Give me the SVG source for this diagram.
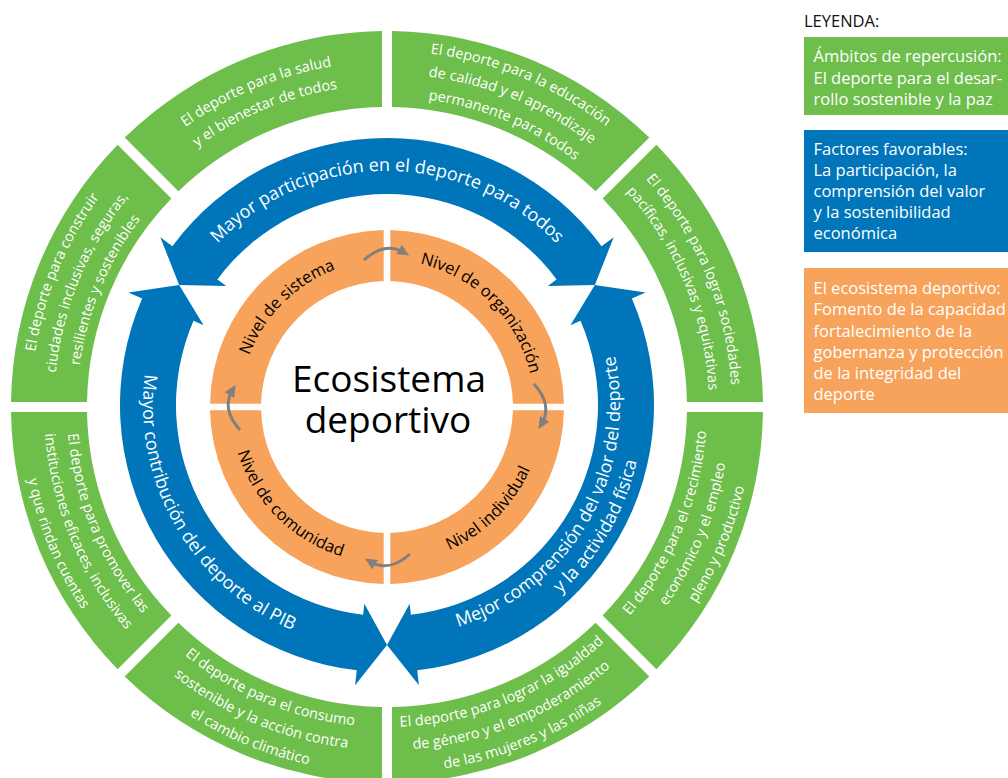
<svg xmlns="http://www.w3.org/2000/svg" width="1008" height="778" viewBox="0 0 1008 778">
<style>
.g{fill:#6dbe4b}
.b{fill:#0075ba}
.o{fill:#f7a35b}
.tg{font-family:"Open Sans","Noto Sans",sans-serif;font-size:14.5px;fill:#fff}
.tb{font-family:"Open Sans","Noto Sans",sans-serif;font-size:18px;fill:#fff}
.to{font-family:"Open Sans","Noto Sans",sans-serif;font-size:16.5px;fill:#000}
.tc{font-family:"Open Sans","Noto Sans",sans-serif;font-size:37px;fill:#000}
.tl{font-family:"Open Sans","Noto Sans",sans-serif;font-size:16.5px;fill:#fff}
.ar{fill:none;stroke:#808080;stroke-width:3;marker-end:url(#ah)}
</style>
<defs>
<marker id="ah" viewBox="0 0 12 11" refX="6" refY="5.5" markerWidth="12" markerHeight="11" markerUnits="userSpaceOnUse" orient="auto"><path d="M0,0 L12,5.5 L0,11 Z" fill="#808080"/></marker>
<path id="s0a" d="M630.95,163.05 A345,345 0 0 1 732,407"/>
<path id="s0b" d="M614.69,179.31 A322,322 0 0 1 709,407"/>
<path id="s1a" d="M387,51 A356,356 0 0 1 638.73,155.27"/>
<path id="s1b" d="M387,74 A333,333 0 0 1 622.47,171.53"/>
<path id="s1c" d="M387,97 A310,310 0 0 1 606.2,187.8"/>
<path id="s2a" d="M143.05,163.05 A345,345 0 0 1 387,62"/>
<path id="s2b" d="M159.31,179.31 A322,322 0 0 1 387,85"/>
<path id="s3a" d="M31,407 A356,356 0 0 1 135.27,155.27"/>
<path id="s3b" d="M54,407 A333,333 0 0 1 151.53,171.53"/>
<path id="s3c" d="M77,407 A310,310 0 0 1 167.8,187.8"/>
<path id="s4a" d="M67,407 A320,320 0 0 0 160.73,633.27"/>
<path id="s4b" d="M44,407 A343,343 0 0 0 144.46,649.54"/>
<path id="s4c" d="M21,407 A366,366 0 0 0 128.2,665.8"/>
<path id="s5a" d="M160.73,633.27 A320,320 0 0 0 387,727"/>
<path id="s5b" d="M144.46,649.54 A343,343 0 0 0 387,750"/>
<path id="s5c" d="M128.2,665.8 A366,366 0 0 0 387,773"/>
<path id="s6a" d="M387,727 A320,320 0 0 0 613.27,633.27"/>
<path id="s6b" d="M387,750 A343,343 0 0 0 629.54,649.54"/>
<path id="s6c" d="M387,773 A366,366 0 0 0 645.8,665.8"/>
<path id="s7a" d="M613.27,633.27 A320,320 0 0 0 707,407"/>
<path id="s7b" d="M629.54,649.54 A343,343 0 0 0 730,407"/>
<path id="s7c" d="M645.8,665.8 A366,366 0 0 0 753,407"/>
<path id="bt" d="M184.35,288 A234,234 0 0 1 589.65,288"/>
<path id="bl" d="M175.69,283 A244,244 0 0 0 387,649"/>
<path id="br1" d="M387,638 A233,233 0 0 0 588.78,288.5"/>
<path id="br2" d="M387,661 A256,256 0 0 0 608.7,277"/>
<path id="o0" d="M387,260 A147,147 0 0 1 534,407"/>
<path id="o1" d="M240,407 A147,147 0 0 1 387,260"/>
<path id="o2" d="M231,407 A156,156 0 0 0 387,563"/>
<path id="o3" d="M387,563 A156,156 0 0 0 543,407"/>
</defs>
<rect width="1008" height="778" fill="#fff"/>

<g id="green-sociedades">
<path class="g" d="M762.97,402 A376,376 0 0 0 656.39,144.69 L602.64,198.43 A300,300 0 0 1 686.96,402 Z"/>
<text class="tg" text-anchor="middle"><textPath href="#s0a" startOffset="50%">El deporte para lograr sociedades</textPath></text>
<text class="tg" text-anchor="middle"><textPath href="#s0b" startOffset="50%">pacíficas, inclusivas y equitativas</textPath></text>
</g>
<g id="green-educacion">
<path class="g" d="M649.31,137.61 A376,376 0 0 0 392,31.03 L392,107.04 A300,300 0 0 1 595.57,191.36 Z"/>
<text class="tg" text-anchor="middle"><textPath href="#s1a" startOffset="50%">El deporte para la educación</textPath></text>
<text class="tg" text-anchor="middle"><textPath href="#s1b" startOffset="50%">de calidad y el aprendizaje</textPath></text>
<text class="tg" text-anchor="middle"><textPath href="#s1c" startOffset="50%">permanente para todos</textPath></text>
</g>
<g id="green-salud">
<path class="g" d="M382,31.03 A376,376 0 0 0 124.69,137.61 L178.43,191.36 A300,300 0 0 1 382,107.04 Z"/>
<text class="tg" text-anchor="middle"><textPath href="#s2a" startOffset="50%">El deporte para la salud</textPath></text>
<text class="tg" text-anchor="middle"><textPath href="#s2b" startOffset="50%">y el bienestar de todos</textPath></text>
</g>
<g id="green-ciudades">
<path class="g" d="M117.61,144.69 A376,376 0 0 0 11.03,402 L87.04,402 A300,300 0 0 1 171.36,198.43 Z"/>
<text class="tg" text-anchor="middle"><textPath href="#s3a" startOffset="50%">El deporte para construir</textPath></text>
<text class="tg" text-anchor="middle"><textPath href="#s3b" startOffset="50%">ciudades inclusivas, seguras,</textPath></text>
<text class="tg" text-anchor="middle"><textPath href="#s3c" startOffset="50%">resilientes y sostenibles</textPath></text>
</g>
<g id="green-instituciones">
<path class="g" d="M11.03,412 A376,376 0 0 0 117.61,669.31 L171.36,615.57 A300,300 0 0 1 87.04,412 Z"/>
<text class="tg" text-anchor="middle"><textPath href="#s4a" startOffset="50%">El deporte para promover las</textPath></text>
<text class="tg" text-anchor="middle"><textPath href="#s4b" startOffset="50%">instituciones eficaces, inclusivas</textPath></text>
<text class="tg" text-anchor="middle"><textPath href="#s4c" startOffset="50%">y que rindan cuentas</textPath></text>
</g>
<g id="green-consumo">
<path class="g" d="M124.69,676.39 A376,376 0 0 0 382,782.97 L382,706.96 A300,300 0 0 1 178.43,622.64 Z"/>
<text class="tg" text-anchor="middle"><textPath href="#s5a" startOffset="50%">El deporte para el consumo</textPath></text>
<text class="tg" text-anchor="middle"><textPath href="#s5b" startOffset="50%">sostenible y la acción contra</textPath></text>
<text class="tg" text-anchor="middle"><textPath href="#s5c" startOffset="50%">el cambio climático</textPath></text>
</g>
<g id="green-igualdad">
<path class="g" d="M392,782.97 A376,376 0 0 0 649.31,676.39 L595.57,622.64 A300,300 0 0 1 392,706.96 Z"/>
<text class="tg" text-anchor="middle"><textPath href="#s6a" startOffset="50%">El deporte para lograr la igualdad</textPath></text>
<text class="tg" text-anchor="middle"><textPath href="#s6b" startOffset="50%">de género y el empoderamiento</textPath></text>
<text class="tg" text-anchor="middle"><textPath href="#s6c" startOffset="50%">de las mujeres y las niñas</textPath></text>
</g>
<g id="green-crecimiento">
<path class="g" d="M656.39,669.31 A376,376 0 0 0 762.97,412 L686.96,412 A300,300 0 0 1 602.64,615.57 Z"/>
<text class="tg" text-anchor="middle"><textPath href="#s7a" startOffset="50%">El deporte para el crecimiento</textPath></text>
<text class="tg" text-anchor="middle"><textPath href="#s7b" startOffset="50%">económico y el empleo</textPath></text>
<text class="tg" text-anchor="middle"><textPath href="#s7c" startOffset="50%">pleno y productivo</textPath></text>
</g>

<g id="blue-participacion">
<path class="b" d="M179.15,285 L160.31,237.26 L172.37,246.18 A267,267 0 0 1 601.63,246.18 L613.69,237.26 L594.85,285 L547.77,286.04 L556.61,279.49 A211,211 0 0 0 217.39,279.49 L226.23,286.04 Z"/>
<text class="tb" text-anchor="middle"><textPath href="#bt" startOffset="50%">Mayor participación en el deporte para todos</textPath></text>
</g>
<g id="blue-pib">
<path class="b" d="M179.15,285 L128.39,292.55 L142.15,298.53 A267,267 0 0 0 356.78,670.28 L355.08,685.19 L387,645 L364.36,603.71 L363.11,614.64 A211,211 0 0 1 193.5,320.86 L203.59,325.25 Z"/>
<text class="tb" text-anchor="middle"><textPath href="#bl" startOffset="50%">Mayor contribución del deporte al PIB</textPath></text>
</g>
<g id="blue-comprension">
<path class="b" d="M387,645 L418.92,685.19 L417.22,670.28 A267,267 0 0 0 631.85,298.53 L645.61,292.55 L594.85,285 L570.41,325.25 L580.5,320.86 A211,211 0 0 1 410.89,614.64 L409.64,603.71 Z"/>
<text class="tb" text-anchor="middle"><textPath href="#br1" startOffset="50%">Mejor comprensión del valor del deporte</textPath></text>
<text class="tb" text-anchor="middle"><textPath href="#br2" startOffset="50%">y la actividad física</textPath></text>
</g>

<g id="orange-organizacion">
<path class="o" d="M563.97,403.7 A177,177 0 0 0 390.3,230.03 L390.3,281.04 A126,126 0 0 1 512.96,403.7 Z"/>
<text class="to" text-anchor="middle"><textPath href="#o0" startOffset="50%">Nivel de organización</textPath></text>
</g>
<g id="orange-sistema">
<path class="o" d="M383.7,230.03 A177,177 0 0 0 210.03,403.7 L261.04,403.7 A126,126 0 0 1 383.7,281.04 Z"/>
<text class="to" text-anchor="middle"><textPath href="#o1" startOffset="50%">Nivel de sistema</textPath></text>
</g>
<g id="orange-comunidad">
<path class="o" d="M210.03,410.3 A177,177 0 0 0 383.7,583.97 L383.7,532.96 A126,126 0 0 1 261.04,410.3 Z"/>
<text class="to" text-anchor="middle"><textPath href="#o2" startOffset="50%">Nivel de comunidad</textPath></text>
</g>
<g id="orange-individual">
<path class="o" d="M390.3,583.97 A177,177 0 0 0 563.97,410.3 L512.96,410.3 A126,126 0 0 1 390.3,532.96 Z"/>
<text class="to" text-anchor="middle"><textPath href="#o3" startOffset="50%">Nivel individual</textPath></text>
</g>

<g id="center">
<text class="tc" x="389" y="392" text-anchor="middle">Ecosistema</text>
<text class="tc" x="388" y="433" text-anchor="middle">deportivo</text>
</g>

<g id="connectors">
<path class="ar" d="M364,260 Q385,241 404,252.5"/>
<path class="ar" d="M364,260 Q385,241 404,252.5" transform="rotate(90 387 407)"/>
<path class="ar" d="M364,260 Q385,241 404,252.5" transform="rotate(180 387 407)"/>
<path class="ar" d="M364,260 Q385,241 404,252.5" transform="rotate(270 387 407)"/>
</g>

<g id="legend">
<text x="804" y="27" font-family="Open Sans, Noto Sans, sans-serif" font-size="16.5" fill="#111">LEYENDA:</text>
<g id="legend-green">
<rect x="804" y="37" width="204" height="78" class="g"/>
<text class="tl" x="813.5" y="62">Ámbitos de repercusión:</text>
<text class="tl" x="813.5" y="83.5">El deporte para el desar-</text>
<text class="tl" x="813.5" y="105">rollo sostenible y la paz</text>
</g>
<g id="legend-blue">
<rect x="804" y="130" width="204" height="122" class="b"/>
<text class="tl" x="813.5" y="155">Factores favorables:</text>
<text class="tl" x="813.5" y="176">La participación, la</text>
<text class="tl" x="813.5" y="197">comprensión del valor</text>
<text class="tl" x="813.5" y="218">y la sostenibilidad</text>
<text class="tl" x="813.5" y="239">económica</text>
</g>
<g id="legend-orange">
<rect x="804" y="268" width="204" height="145" class="o"/>
<text class="tl" x="813.5" y="293.5">El ecosistema deportivo:</text>
<text class="tl" x="813.5" y="315">Fomento de la capacidad</text>
<text class="tl" x="813.5" y="336.5">fortalecimiento de la</text>
<text class="tl" x="813.5" y="358">gobernanza y protección</text>
<text class="tl" x="813.5" y="379">de la integridad del</text>
<text class="tl" x="813.5" y="400">deporte</text>
</g>
</g>
</svg>
